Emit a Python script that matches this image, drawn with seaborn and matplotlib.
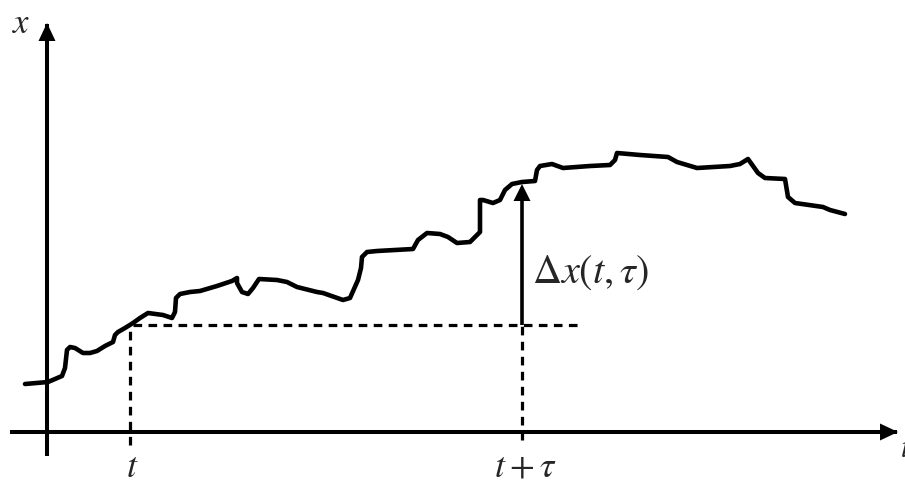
import matplotlib
matplotlib.use("Agg")
import matplotlib.pyplot as plt
import numpy as np
import pandas as pd
import seaborn as sns

# Sample path x(t) of a random process
t_vals = [-22, 1, 15, 18, 20, 23, 28, 36, 43, 50, 58, 66, 68, 71, 78, 86, 93, 101,
          116, 125, 128, 129, 133, 143, 153, 170, 185, 190, 190, 195, 201, 206, 212,
          230, 240, 250, 270, 276, 296, 303, 311, 314, 315, 320, 330, 366, 371, 380,
          393, 401, 410, 423, 428, 433, 433, 436, 446, 453, 458, 465, 475, 488, 490,
          493, 505, 516, 543, 563, 568, 570, 593, 621, 630, 650, 683, 693, 701, 711,
          718, 738, 741, 748, 776, 783, 798]
x_vals = [48, 50, 56, 64, 82, 85, 84, 79, 79, 81, 86, 90, 97, 100, 104, 109, 114, 119,
          117, 114, 120, 134, 138, 140, 141, 146, 151, 154, 149, 140, 138, 144, 153,
          152, 150, 145, 140, 139, 132, 134, 152, 164, 175, 180, 181, 183, 192, 199,
          198, 195, 189, 190, 195, 200, 232, 232, 229, 232, 242, 248, 250, 251, 262,
          266, 268, 264, 266, 267, 272, 279, 277, 275, 270, 264, 266, 268, 273, 259,
          254, 253, 235, 229, 225, 222, 218]

# Marked instants and levels
t0 = 83          # time t
tau = 392        # lag tau
x_t0 = 107       # x(t)
x_t_tau = 248    # x(t + tau)

# Axis extents
t_axis = (-37, 850)
x_axis = (-24, 408)

sns.set_style("white")
plt.rcParams["font.family"] = ["Liberation Serif", "DejaVu Serif"]
plt.rcParams["mathtext.fontset"] = "stix"

fig = plt.figure(figsize=(9.05, 4.84), dpi=100)
ax = fig.add_axes([0, 0, 1, 1])
ax.set_xlim(-47, 858)
ax.set_ylim(-52, 432)
ax.set_axis_off()

# Coordinate axes with arrowheads
axis_lw = 2.9
ax.plot(t_axis, [0, 0], color="black", lw=axis_lw, solid_capstyle="butt")
ax.plot([0, 0], x_axis, color="black", lw=axis_lw, solid_capstyle="butt")
head_len, head_half = 17, 8.5
ax.fill([t_axis[1] + 1, t_axis[1] - head_len, t_axis[1] - head_len],
        [0, head_half, -head_half], color="black", lw=0)
ax.fill([0, head_half, -head_half],
        [x_axis[1] + 1, x_axis[1] - head_len, x_axis[1] - head_len], color="black", lw=0)

# Dashed guide lines
dash = dict(color="black", lw=2.3, ls=(0, (2.7, 2.0)))
ax.plot([t0, t0], [-13, x_t0], **dash)
ax.plot([t0 + tau, t0 + tau], [-8, x_t0], **dash)
ax.plot([t0 + 3, 531], [x_t0, x_t0], **dash)

# Increment arrow from x(t) up to x(t + tau)
ax.plot([t0 + tau, t0 + tau], [x_t0, x_t_tau - head_len], color="black", lw=2.6,
        solid_capstyle="butt")
ax.fill([t0 + tau, t0 + tau + head_half, t0 + tau - head_half],
        [x_t_tau, x_t_tau - head_len, x_t_tau - head_len], color="black", lw=0)

# The sample path
df = pd.DataFrame({"t": t_vals, "x": x_vals})
sns.lineplot(data=df, x="t", y="x", sort=False, estimator=None, color="black",
             lw=3.3, ax=ax)
for line in ax.get_lines()[-1:]:
    line.set_solid_joinstyle("round")
    line.set_solid_capstyle("round")

# Labels
ax.text(-26, 399, r"$x$", fontsize=25, ha="center", va="baseline")
ax.text(853, -25, r"$t$", fontsize=22, ha="left", va="baseline")
ax.text(t0 + 2, -45, r"$t$", fontsize=26, ha="center", va="baseline")
ax.text(t0 + tau + 3, -45, r"$t+\tau$", fontsize=26, ha="center", va="baseline")
ax.text(t0 + tau + 10, 149, r"$\Delta x(t,\tau)$", fontsize=29, ha="left", va="baseline")

fig.savefig("out.png", dpi=100)
